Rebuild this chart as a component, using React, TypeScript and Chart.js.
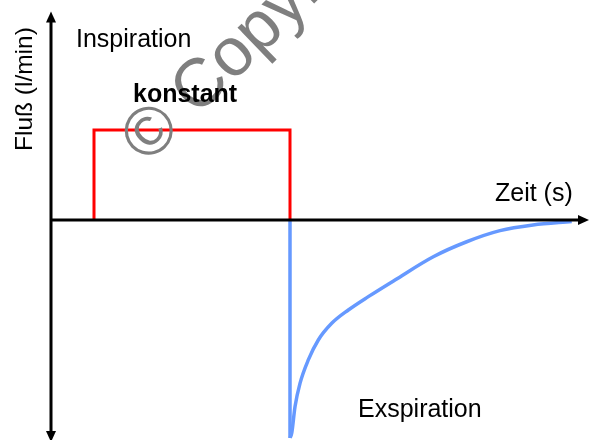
import React, { useEffect, useRef } from "react";
import { Chart, registerables } from "chart.js";

Chart.register(...registerables);

// Time axis (s) and flow axis (l/min), arbitrary schematic units
const xRange = [-0.255, 2.7];
const yRange = [-146.67, 146.67];
const xAxisExtent = [0, 2.69];
const yAxisExtent = [-148, 139];

// Constant inspiratory flow (square wave)
const inspT = [0.215, 0.215, 1.195, 1.195];
const inspF = [0, 60, 60, 0];

// Expiratory flow: sudden drop, then exponential-like recovery
const dropT = [1.195, 1.195];
const dropF = [0, -145.3];
const expT = [1.195, 1.2035, 1.22, 1.245, 1.2865, 1.3365, 1.4035, 1.4865, 1.5865, 1.72, 1.9115, 2.0785, 2.245, 2.41, 2.6035];
const expF = [-145.3, -142.2, -124.5, -108.9, -93.3, -80, -68.9, -60, -51.1, -40, -24.5, -14.5, -7.1, -3.3, -1];

const labels = {
  yTitle: "Fluß (l/min)",
  xTitle: "Zeit (s)",
  insp: "Inspiration",
  exsp: "Exspiration",
  konst: "konstant",
  watermark: "© Copyright",
};

const toPts = (xs: number[], ys: number[]) => xs.map((x, i) => ({ x, y: ys[i] }));

const FONT = "'Liberation Sans', Arial, sans-serif";

const decorPlugin = {
  id: "decor",
  afterDatasetsDraw(chart: any) {
    const ctx = chart.ctx as CanvasRenderingContext2D;
    const xs = chart.scales.x;
    const ys = chart.scales.y;
    const x0 = xs.getPixelForValue(0);
    const y0 = ys.getPixelForValue(0);
    const yTop = ys.getPixelForValue(yAxisExtent[1]);
    const yBot = ys.getPixelForValue(yAxisExtent[0]);
    const xEnd = xs.getPixelForValue(xAxisExtent[1]);
    ctx.save();
    // watermark
    ctx.save();
    ctx.fillStyle = "#7f7f7f";
    ctx.font = `68px ${FONT}`;
    ctx.textAlign = "left";
    ctx.textBaseline = "alphabetic";
    ctx.translate(147, 165);
    ctx.rotate((-44 * Math.PI) / 180);
    ctx.fillText(labels.watermark, 0, 0);
    ctx.restore();

    // axes
    ctx.strokeStyle = "#000";
    ctx.fillStyle = "#000";
    ctx.lineWidth = 3;
    ctx.lineCap = "butt";
    ctx.beginPath();
    ctx.moveTo(x0, yTop + 8);
    ctx.lineTo(x0, yBot - 8);
    ctx.moveTo(x0, y0);
    ctx.lineTo(xEnd - 8, y0);
    ctx.stroke();
    const ah = 11;
    const aw = 5;
    ctx.beginPath();
    ctx.moveTo(x0, yTop);
    ctx.lineTo(x0 - aw, yTop + ah);
    ctx.lineTo(x0 + aw, yTop + ah);
    ctx.closePath();
    ctx.fill();
    ctx.beginPath();
    ctx.moveTo(x0, yBot);
    ctx.lineTo(x0 - aw, yBot - ah);
    ctx.lineTo(x0 + aw, yBot - ah);
    ctx.closePath();
    ctx.fill();
    ctx.beginPath();
    ctx.moveTo(xEnd, y0);
    ctx.lineTo(xEnd - ah, y0 - aw);
    ctx.lineTo(xEnd - ah, y0 + aw);
    ctx.closePath();
    ctx.fill();

    // texts
    ctx.fillStyle = "#000";
    ctx.textAlign = "left";
    ctx.textBaseline = "alphabetic";
    ctx.font = `25px ${FONT}`;
    ctx.fillText(labels.insp, 76, 47);
    ctx.fillText(labels.xTitle, 495, 201);
    ctx.fillText(labels.exsp, 358, 417);
    ctx.font = `bold 25px ${FONT}`;
    ctx.fillText(labels.konst, 133, 102);
    ctx.save();
    ctx.font = `24.5px ${FONT}`;
    ctx.translate(32, 151);
    ctx.rotate(-Math.PI / 2);
    ctx.fillText(labels.yTitle, 0, 0);
    ctx.restore();
    ctx.restore();
  },
};

export default function App() {
  const ref = useRef<HTMLCanvasElement>(null);
  useEffect(() => {
    if (!ref.current) return;
    const chart = new Chart(ref.current, {
      type: "scatter",
      data: {
        datasets: [
          {
            data: toPts(inspT, inspF),
            showLine: true,
            borderColor: "#ff0000",
            borderWidth: 3,
            pointRadius: 0,
            tension: 0,
          },
          {
            data: toPts(dropT, dropF),
            showLine: true,
            borderColor: "#6699ff",
            borderWidth: 3.5,
            pointRadius: 0,
            tension: 0,
          },
          {
            data: toPts(expT, expF),
            showLine: true,
            borderColor: "#6699ff",
            borderWidth: 3.5,
            pointRadius: 0,
            cubicInterpolationMode: "monotone",
          },
        ],
      },
      options: {
        responsive: false,
        animation: false,
        layout: { padding: 0 },
        plugins: { legend: { display: false }, tooltip: { enabled: false }, title: { display: false } },
        scales: {
          x: { type: "linear", min: xRange[0], max: xRange[1], display: false },
          y: { type: "linear", min: yRange[0], max: yRange[1], display: false },
        },
      } as any,
      plugins: [decorPlugin],
    });
    return () => chart.destroy();
  }, []);
  return (
    <div style={{ position: "absolute", left: 0, top: 0, width: 591, height: 440, background: "#fff" }}>
      <canvas ref={ref} width={591} height={440} />
    </div>
  );
}
